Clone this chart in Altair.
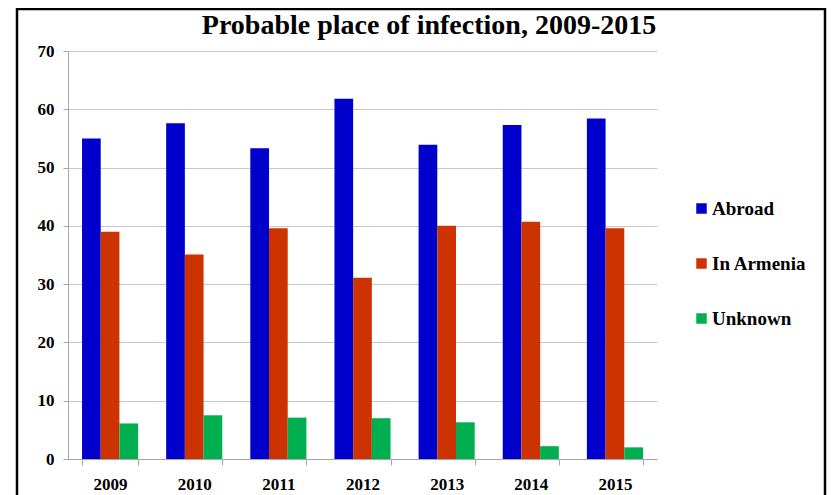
import altair as alt
import pandas as pd

years = ["2009", "2010", "2011", "2012", "2013", "2014", "2015"]
abroad = [55.0, 57.6, 53.3, 61.8, 53.9, 57.3, 58.4]
in_armenia = [39.0, 35.1, 39.6, 31.1, 40.0, 40.7, 39.6]
unknown = [6.1, 7.5, 7.1, 7.0, 6.3, 2.2, 2.0]
series = ["Abroad", "In Armenia", "Unknown"]
colors = ["#0000CC", "#CC3300", "#00B050"]
title_text = "Probable place of infection, 2009-2015"

rows = []
for i, y in enumerate(years):
    for s, vals in zip(series, [abroad, in_armenia, unknown]):
        rows.append({"year": y, "series": s, "value": vals[i]})
df = pd.DataFrame(rows)
one = pd.DataFrame({"t": [title_text]})

FONT = "Liberation Serif"
W, H = 589, 408

bars = alt.Chart(df).mark_bar().encode(
    x=alt.X("year:N", sort=years, title=None,
            scale=alt.Scale(paddingInner=1/3, paddingOuter=1/6),
            axis=alt.Axis(labelAngle=0, tickBand="extent", tickSize=6,
                          labelPadding=11, domainColor="#a6a6a6",
                          tickColor="#a6a6a6", grid=False)),
    xOffset=alt.XOffset("series:N", sort=series),
    y=alt.Y("value:Q", title=None,
            scale=alt.Scale(domain=[0, 70]),
            axis=alt.Axis(values=list(range(0, 71, 10)), tickSize=5,
                          labelPadding=9, domainColor="#a6a6a6",
                          tickColor="#a6a6a6", gridColor="#c8c8c8")),
    color=alt.Color("series:N", sort=series,
                    scale=alt.Scale(domain=series, range=colors),
                    legend=alt.Legend(title=None, orient="none",
                                      legendX=624, legendY=148,
                                      symbolType="square", symbolSize=110,
                                      symbolStrokeWidth=0,
                                      labelFont=FONT, labelFontSize=19,
                                      labelFontWeight="bold", labelColor="#000",
                                      rowPadding=35, labelOffset=1)),
)

frame = alt.Chart(one).mark_rect(fill=None, stroke="#000", strokeWidth=2.5,
                                 clip=False).encode(
    x=alt.value(-51), x2=alt.value(757),
    y=alt.value(-42), y2=alt.value(470),
)

title = alt.Chart(one).mark_text(
    font=FONT, fontSize=28, fontWeight="bold", color="#000",
    align="center", baseline="alphabetic", clip=False,
).encode(
    x=alt.value(361), y=alt.value(-17), text="t:N",
)

chart = alt.layer(bars, frame, title).properties(
    width=W, height=H,
    autosize=alt.AutoSizeParams(type="none"),
    padding={"left": 60, "top": 43, "right": 170, "bottom": 40},
).configure_axis(
    labelFont=FONT, labelFontSize=17, labelFontWeight="bold", labelColor="#000",
).configure_view(stroke=None)

chart.save("out.html", embed_options={"renderer": "svg", "actions": False})
